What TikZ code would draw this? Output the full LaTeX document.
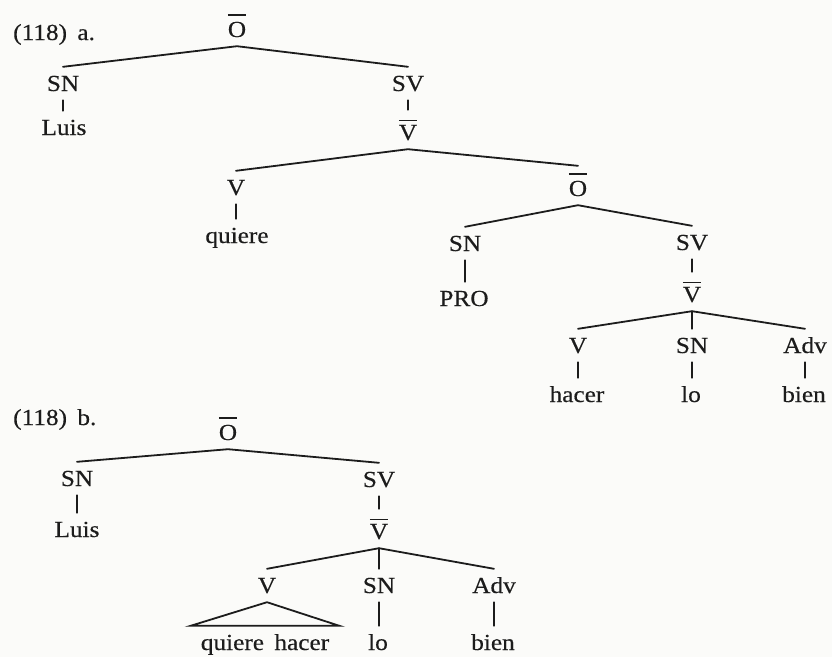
\documentclass[tikz,border=0pt]{standalone}
\usepackage{fontspec}
\setmainfont[FakeStretch=1.1,FakeBold=0.35]{Liberation Serif}
\definecolor{ink}{RGB}{28,28,28}
\definecolor{paper}{RGB}{251,251,249}
% category label with a bar above it (O-bar, V-bar)
\newcommand\ovlab[2]{\vbox{\hrule height 1.6pt\kern#1\hbox{#2}}}
\begin{document}
\begin{tikzpicture}[x=1pt,y=-1pt,
  every node/.style={font=\fontsize{23}{27}\selectfont, text=ink},
  cat/.style={anchor=base, inner xsep=2pt, inner ysep=9pt, text height=15pt, text depth=0pt},
  barcat/.style={cat, text height=21pt},
  exlabel/.style={anchor=base west, inner sep=0pt},
  branch/.style={draw=ink, line width=1.8pt, line cap=round, line join=round},
]
\useasboundingbox (0,0) rectangle (832,657);
\fill[paper] (0,0) rectangle (832,657);

% ---------- (118) a. ----------
\node[exlabel] (exa) at (13,40) {(118)\hspace{0.45em}a.};
\node[barcat] (Oa)    at (237,37)  {\ovlab{6pt}{O}};
\node[cat]    (SNa)   at (63,91)   {SN};
\node[cat]    (Luisa) at (64,135)  {Luis};
\node[cat]    (SVa)   at (408,91)  {SV};
\node[barcat] (Vba)   at (408,140) {\ovlab{3.5pt}{V}};
\node[cat]    (Va)    at (236,195) {V};
\node[cat]    (quiere) at (237,243) {quiere};
\node[barcat] (Ob)    at (578,196) {\ovlab{6pt}{O}};
\node[cat]    (SNpro) at (465,251) {SN};
\node[cat]    (PRO)   at (464,306) {PRO};
\node[cat]    (SVb)   at (692,250) {SV};
\node[barcat] (Vbb)   at (692,302) {\ovlab{3.5pt}{V}};
\node[cat]    (Vhac)  at (578,353) {V};
\node[cat]    (hacer) at (577,402) {hacer};
\node[cat]    (SNlo)  at (692,353) {SN};
\node[cat]    (loa)   at (691,402) {lo};
\node[cat]    (Adva)  at (805,353) {Adv};
\node[cat]    (biena) at (804,402) {bien};

\draw[branch] (SNa.north) -- (Oa.south) -- (SVa.north);
\draw[branch] (SNa.south) -- (SNa.south |- Luisa.north);
\draw[branch] (SVa.south) -- (SVa.south |- Vba.north);
\draw[branch] (Va.north) -- (Vba.south) -- (Ob.north);
\draw[branch] (Va.south) -- (Va.south |- quiere.north);
\draw[branch] (SNpro.north) -- (Ob.south) -- (SVb.north);
\draw[branch] (SNpro.south) -- (SNpro.south |- PRO.north);
\draw[branch] (SVb.south) -- (SVb.south |- Vbb.north);
\draw[branch] (Vhac.north) -- (Vbb.south) -- (Adva.north);
\draw[branch] (Vbb.south) -- (Vbb.south |- SNlo.north);
\draw[branch] (Vhac.south) -- (Vhac.south |- hacer.north);
\draw[branch] (SNlo.south) -- (SNlo.south |- loa.north);
\draw[branch] (Adva.south) -- (Adva.south |- biena.north);

% ---------- (118) b. ----------
\node[exlabel] (exb) at (13,425) {(118)\hspace{0.45em}b.};
\node[barcat] (Oc)    at (228,440) {\ovlab{6pt}{O}};
\node[cat]    (SNc)   at (77,486)  {SN};
\node[cat]    (Luisc) at (77,537)  {Luis};
\node[cat]    (SVc)   at (379,487) {SV};
\node[barcat] (Vbc)   at (379,539) {\ovlab{3.5pt}{V}};
\node[cat]    (Vc)    at (267,593) {V};
\node[cat, inner xsep=10pt] (qh) at (265,650) {quiere\hspace{0.45em}hacer};
\node[cat]    (SNc2)  at (379,593) {SN};
\node[cat]    (loc)   at (378,650) {lo};
\node[cat]    (Advc)  at (494,593) {Adv};
\node[cat]    (bienc) at (493,650) {bien};

\draw[branch] (SNc.north) -- (Oc.south) -- (SVc.north);
\draw[branch] (SNc.south) -- (SNc.south |- Luisc.north);
\draw[branch] (SVc.south) -- (SVc.south |- Vbc.north);
\draw[branch] (Vc.north) -- (Vbc.south) -- (Advc.north);
\draw[branch] (Vbc.south) -- (Vbc.south |- SNc2.north);
\draw[branch, line join=miter] (Vc.south) -- (qh.north west) -- (qh.north east) -- cycle;
\draw[branch] (SNc2.south) -- (SNc2.south |- loc.north);
\draw[branch] (Advc.south) -- (Advc.south |- bienc.north);
\end{tikzpicture}
\end{document}
